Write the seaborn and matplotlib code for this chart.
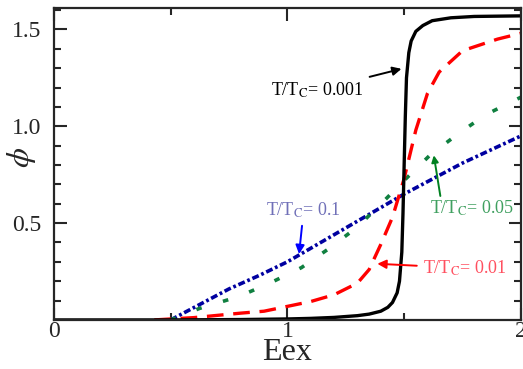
import numpy as np
import pandas as pd
import matplotlib
matplotlib.use("Agg")
import matplotlib.pyplot as plt
import seaborn as sns

# phi vs Eex for four temperatures T/Tc
x_0001 = [0.0, 0.5, 0.8, 1.0, 1.1, 1.2, 1.3, 1.35, 1.4, 1.43, 1.45, 1.47, 1.48, 1.49,
          1.495, 1.5, 1.505, 1.51, 1.52, 1.53, 1.55, 1.58, 1.62, 1.7, 1.8, 2.0]
y_0001 = [0.0, 0.0, 0.002, 0.005, 0.008, 0.013, 0.022, 0.03, 0.045, 0.065, 0.09, 0.14,
          0.2, 0.35, 0.55, 0.8, 1.05, 1.25, 1.38, 1.44, 1.49, 1.52, 1.545, 1.56, 1.567, 1.57]

x_001 = [0.43, 0.6, 0.8, 0.9, 1.0, 1.1, 1.2, 1.3, 1.35, 1.4, 1.45, 1.5, 1.55, 1.6,
         1.65, 1.75, 1.9, 2.0]
y_001 = [0.0, 0.012, 0.035, 0.045, 0.07, 0.095, 0.13, 0.19, 0.26, 0.39, 0.53, 0.73,
         0.98, 1.17, 1.28, 1.39, 1.45, 1.48]

x_005 = [0.5, 0.625, 0.79, 0.925, 1.06, 1.18, 1.30, 1.41, 1.5, 1.61, 1.73, 1.85, 2.0]
y_005 = [0.0, 0.06, 0.12, 0.19, 0.27, 0.37, 0.48, 0.61, 0.72, 0.85, 0.96, 1.06, 1.15]

x_01 = [0.5, 0.625, 0.75, 0.88, 1.0, 1.25, 1.5, 1.75, 2.0]
y_01 = [0.0, 0.08, 0.16, 0.23, 0.30, 0.475, 0.65, 0.81, 0.95]

sns.set_style("ticks")
plt.rcParams["font.family"] = ["Liberation Serif", "DejaVu Serif"]
plt.rcParams["mathtext.fontset"] = "stix"
plt.rcParams["lines.scale_dashes"] = False

fig = plt.figure(figsize=(5.23, 3.69), dpi=100)
ax = fig.add_axes([0.103, 0.133, 0.893, 0.845])

sns.lineplot(x=x_01, y=y_01, ax=ax, color="#0000a0", lw=2.6, linestyle=(0, (5, 2, 2, 2)))
sns.lineplot(x=x_005, y=y_005, ax=ax, color="#108040", lw=2.6, linestyle=(0, (4, 16)))
sns.lineplot(x=x_001, y=y_001, ax=ax, color="#ff0000", lw=2.4, linestyle=(0, (12, 7)))
sns.lineplot(x=x_0001, y=y_0001, ax=ax, color="black", lw=2.4)

ax.set_xlim(0, 2)
ax.set_ylim(0, 1.61)
ax.set_xticks([0, 1, 2])
ax.set_xticks([0.5, 1.5], minor=True)
ax.set_yticks([0.5, 1.0, 1.5])
ax.set_yticklabels(["0.5", "1.0", "1.5"])
ax.set_yticks(np.arange(0.1, 1.61, 0.1), minor=True)
ax.tick_params(which="both", direction="in", top=True, right=True, width=1.5, labelsize=17)
ax.tick_params(axis="x", pad=1)
ax.tick_params(axis="y", pad=9)
ax.tick_params(which="major", length=9)
ax.tick_params(which="minor", length=5)
for s in ax.spines.values():
    s.set_linewidth(1.6)

ax.set_xlabel("Eex", fontsize=23, labelpad=-3)
ax.set_ylabel(r"$\phi$", fontsize=23)
ax.yaxis.set_label_coords(-0.035, 0.52)

ax.annotate(r"T/T$_\mathrm{C}$= 0.001", xy=(1.50, 1.30), xytext=(0.93, 1.16), fontsize=13,
            color="black", arrowprops=dict(arrowstyle="-|>", color="black", lw=1.4))
ax.annotate(r"T/T$_\mathrm{C}$= 0.1", xy=(1.05, 0.34), xytext=(0.91, 0.54), fontsize=13,
            color="#7070b8", arrowprops=dict(arrowstyle="-|>", color="#0000ff", lw=1.4,
                                             shrinkA=2, shrinkB=0))
ax.text(1.61, 0.55, r"T/T$_\mathrm{C}$= 0.05", fontsize=13, color="#40a060")
ax.annotate("", xy=(1.627, 0.85), xytext=(1.655, 0.64),
            arrowprops=dict(arrowstyle="-|>", color="#008020", lw=1.4, shrinkA=0, shrinkB=0))
ax.annotate(r"T/T$_\mathrm{C}$= 0.01", xy=(1.385, 0.29), xytext=(1.58, 0.24), fontsize=13,
            color="#ff5060", arrowprops=dict(arrowstyle="-|>", color="#ff0000", lw=1.4,
                                             shrinkB=0))

fig.savefig("out.png", dpi=100)
